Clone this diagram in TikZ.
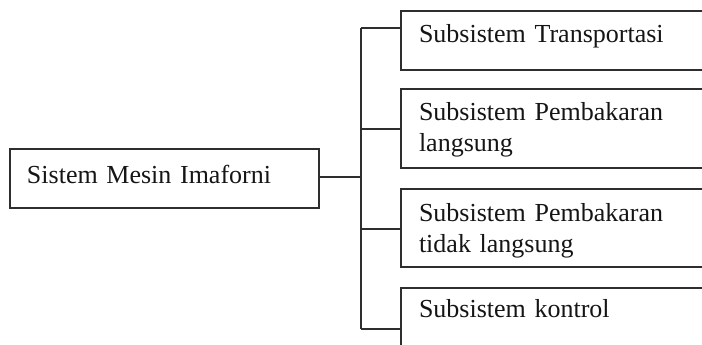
\documentclass[tikz,border=0pt]{standalone}
\usepackage{fontspec}
\setmainfont{Liberation Serif}
\usepackage{xcolor}
\usepackage{tikz}

\definecolor{linegray}{HTML}{2E2E2E}
\definecolor{textgray}{HTML}{151515}

\begin{document}
\begin{tikzpicture}[x=1pt,y=-1pt,
  box/.style={draw=linegray, line width=1.4pt, anchor=north west, outer sep=0pt,
    inner ysep=0pt, align=left, text=textgray, font=\fontsize{26}{31}\selectfont,
    text height=32pt, text depth=27pt},
  subbox/.style={box, inner xsep=18pt, text width=340pt},
  twoline/.style={text depth=47pt},
  conn/.style={draw=linegray, line width=1.4pt}]
% Fix picture size and cut off the boxes at the edge
\path[use as bounding box, clip] (0,0) rectangle (702,345);

% Main system box
\node[box, inner xsep=17pt, text width=275pt, text height=34pt, text depth=25pt] (main) at (10,149) {Sistem Mesin Imaforni};

% Subsystem boxes
\node[subbox] (trans) at (401,11) {Subsistem Transportasi};
\node[subbox, twoline] (langsung) at (401,89) {Subsistem Pembakaran\\langsung};
\node[subbox, twoline, text depth=46pt] (tdklangsung) at (401,189) {Subsistem Pembakaran\\tidak langsung};
\node[subbox, text height=29pt, text depth=30pt] (kontrol) at (401,288) {Subsistem kontrol};

% Junction points on the trunk
\coordinate (split) at (361,177);
\coordinate (j1) at (361,28);
\coordinate (j2) at (361,129);
\coordinate (j3) at (361,229);
\coordinate (j4) at (361,329);

% Draw connectors
\draw[conn] (split -| main.east) -- (split);
\draw[conn] (j1) -- (j4);
\draw[conn] (j1) -- (j1 -| trans.west);
\draw[conn] (j2) -- (j2 -| langsung.west);
\draw[conn] (j3) -- (j3 -| tdklangsung.west);
\draw[conn] (j4) -- (j4 -| kontrol.west);
\end{tikzpicture}
\end{document}
